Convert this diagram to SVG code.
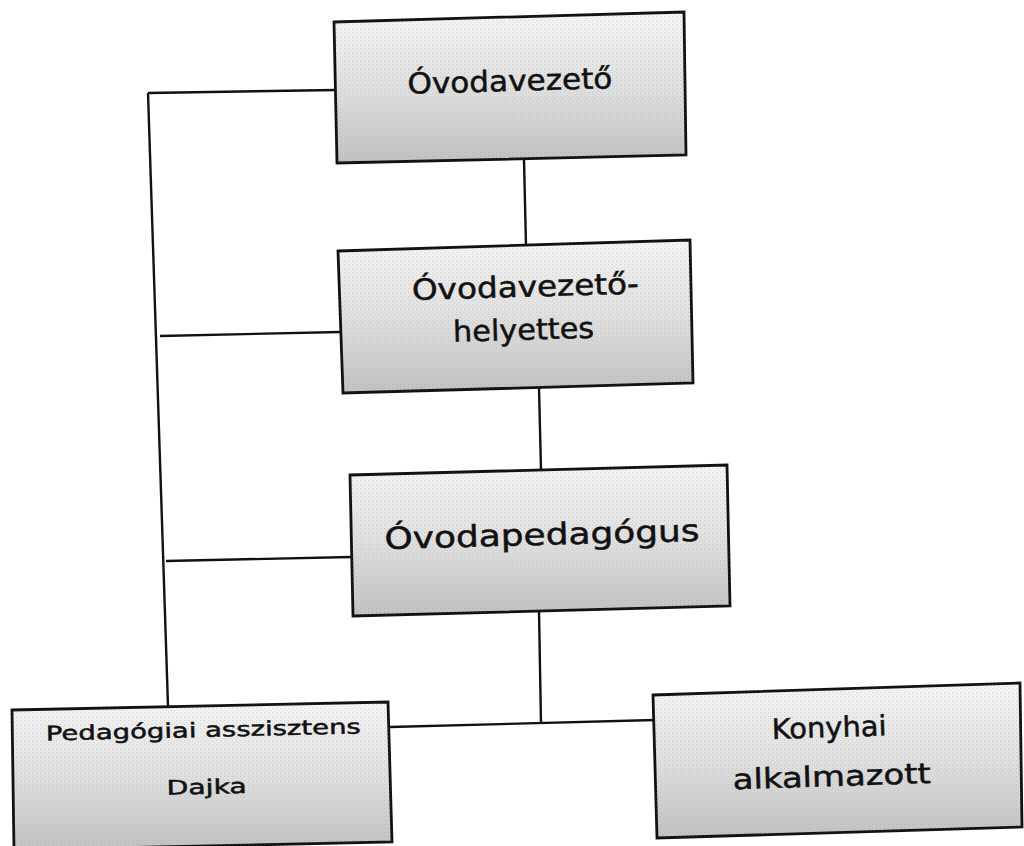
<svg xmlns="http://www.w3.org/2000/svg" width="1024" height="846" viewBox="0 0 1024 846">
<style>
.box{stroke:#111;stroke-width:2.8;fill:url(#g)}
.tex{fill:url(#dots);stroke:none}
.t{font-family:"DejaVu Sans","Open Sans",sans-serif;fill:#111;stroke:#111;stroke-width:0.5;text-anchor:middle}
.ln{stroke:#111;stroke-width:2.4;fill:none}
</style>
<defs>
<linearGradient id="g" x1="0" y1="0" x2="0" y2="1">
<stop offset="0" stop-color="#f5f5f5"/>
<stop offset="0.5" stop-color="#e0e0e0"/>
<stop offset="1" stop-color="#c2c2c2"/>
</linearGradient>
<pattern id="dots" width="4" height="4" patternUnits="userSpaceOnUse">
<rect x="0" y="0" width="1" height="1" fill="#777" opacity="0.5"/>
<rect x="2" y="2" width="1" height="1" fill="#888" opacity="0.4"/>
</pattern>
</defs>
<rect width="1024" height="846" fill="#fff"/>
<g id="connectors">
<line class="ln" x1="148" y1="93" x2="168" y2="706"/>
<line class="ln" x1="148" y1="93" x2="336" y2="90"/>
<line class="ln" x1="160" y1="336" x2="340" y2="332"/>
<line class="ln" x1="166" y1="561" x2="351" y2="557"/>
<line class="ln" x1="524" y1="160" x2="526" y2="246"/>
<line class="ln" x1="539" y1="388" x2="541" y2="470"/>
<line class="ln" x1="539" y1="611" x2="541" y2="724"/>
<line class="ln" x1="390" y1="727" x2="655" y2="720"/>
</g>
<g id="n1">
<polygon class="box" points="334,22 684,12 686,155 337,163"/>
<polygon class="tex" points="334,22 684,12 686,155 337,163" opacity="0.5"/>
<text class="t" font-size="29" x="510" y="91" textLength="205" lengthAdjust="spacingAndGlyphs" transform="rotate(-1.6 510 85)">Óvodavezető</text>
</g>
<g id="n2">
<polygon class="box" points="338,251 690,240 693,383 343,393"/>
<polygon class="tex" points="338,251 690,240 693,383 343,393" opacity="0.5"/>
<text class="t" font-size="29" transform="rotate(-1.6 516 310)"><tspan x="526" y="297" textLength="227" lengthAdjust="spacingAndGlyphs">Óvodavezető-</tspan></text>
<text class="t" font-size="29" transform="rotate(-1.6 516 310)"><tspan x="523" y="340" textLength="141" lengthAdjust="spacingAndGlyphs">helyettes</tspan></text>
</g>
<g id="n3">
<polygon class="box" points="350,475 727,465 730,606 353,616"/>
<polygon class="tex" points="350,475 727,465 730,606 353,616" opacity="0.5"/>
<text class="t" font-size="30" x="542" y="545" textLength="315" lengthAdjust="spacingAndGlyphs" transform="rotate(-1.5 540 535)">Óvodapedagógus</text>
</g>
<g id="n4">
<polygon class="box" points="12,710 388,702 392,842 14,850"/>
<polygon class="tex" points="12,710 388,702 392,842 14,850" opacity="0.5"/>
<text class="t" font-size="20" transform="rotate(-1.3 200 760)"><tspan x="204" y="737" textLength="315" lengthAdjust="spacingAndGlyphs">Pedagógiai asszisztens</tspan></text>
<text class="t" font-size="20" transform="rotate(-1.3 200 760)"><tspan x="206" y="794" textLength="80" lengthAdjust="spacingAndGlyphs">Dajka</tspan></text>
</g>
<g id="n5">
<polygon class="box" points="653,695 1020,683 1022,827 657,838"/>
<polygon class="tex" points="653,695 1020,683 1022,827 657,838" opacity="0.5"/>
<text class="t" font-size="28" transform="rotate(-1.8 835 755)"><tspan x="830" y="737" textLength="115" lengthAdjust="spacingAndGlyphs">Konyhai</tspan></text>
<text class="t" font-size="28" transform="rotate(-1.8 835 755)"><tspan x="831" y="786" textLength="198" lengthAdjust="spacingAndGlyphs">alkalmazott</tspan></text>
</g>
</svg>
